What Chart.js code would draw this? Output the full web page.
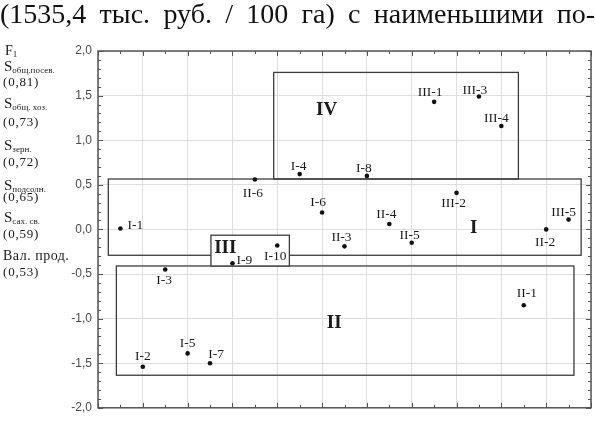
<!DOCTYPE html>
<html>
<head>
<meta charset="utf-8">
<script src="https://cdn.jsdelivr.net/npm/chart.js@4/dist/chart.umd.min.js"></script>
<style>
  html, body { margin: 0; padding: 0; background: #fff; }
  #wrap { position: relative; width: 595px; height: 421px; overflow: hidden; background: #fff; }
  #c { position: absolute; left: 0; top: 0; }
  .t { position: absolute; font-family: 'Liberation Serif', 'Times New Roman', serif; color: #1a1a1a; line-height: 0; white-space: nowrap; }
  .sub { font-size: 9px; position: relative; top: 2px; }
  #title { position: absolute; left: 0; top: 0px; width: 595px; font-family: 'Liberation Serif', serif; font-size: 28px; line-height: 28px; color: #111; text-align: justify; text-align-last: justify; white-space: nowrap; }
</style>
</head>
<body>
<div id="wrap">
  <canvas id="c" width="595" height="421"></canvas>
  <div id="title">(1535,4 тыс. руб. / 100 га) с наименьшими по-</div>
</div>
<script>
// ---- data ----
const pointNames = ['I-1','I-2','I-3','I-4','I-5','I-6','I-7','I-8','I-9','I-10',
                    'II-1','II-2','II-3','II-4','II-5','II-6',
                    'III-1','III-2','III-3','III-4','III-5'];
const pointX = [0.5, 1, 1.5, 4.5, 2, 5, 2.5, 6, 3, 4,
                9.5, 10, 5.5, 6.5, 7, 3.5,
                7.5, 8, 8.5, 9, 10.5];
const pointY = [0.01, -1.54, -0.45, 0.62, -1.39, 0.19, -1.50, 0.60, -0.38, -0.18,
                -0.85, 0.00, -0.19, 0.06, -0.15, 0.56,
                1.43, 0.41, 1.49, 1.16, 0.11];

// cluster boxes
const boxNames = ['I', 'IV', 'II', 'III'];
const boxXMin = [0.23, 3.92, 0.41, 2.52];
const boxXMax = [10.78, 9.38, 10.62, 4.27];
const boxYMin = [-0.29, 0.565, -1.635, -0.41];
const boxYMax = [0.565, 1.76, -0.41, -0.065];
const boxLabelX = [8.38, 5.1, 5.27, 2.84];
const boxLabelY = [0.03, 1.35, -1.04, -0.19];

// y axis tick values
const yTicks = [-2, -1.5, -1, -0.5, 0, 0.5, 1, 1.5, 2];

// left-side factor description
const factorTitle = ['F', '1'];
const factorNames = [['S', 'общ.посев.'], ['S', 'общ. хоз.'], ['S', 'зерн.'], ['S', 'подсолн.'], ['S', 'сах. св.'], ['Вал. прод.', '']];
const factorLoadings = ['(0,81)', '(0,73)', '(0,72)', '(0,65)', '(0,59)', '(0,53)'];

// ---- styles / placements (not data) ----
const labelOffsets = {
  'I-1': [15, -4], 'I-2': [0, -11], 'I-3': [-1, 10], 'I-4': [-1, -9], 'I-5': [0, -11],
  'I-6': [-4, -11], 'I-7': [6, -10], 'I-8': [-3, -8], 'I-9': [12, -4], 'I-10': [-2, 10],
  'II-1': [3, -13], 'II-2': [-1, 12], 'II-3': [-3, -10], 'II-4': [-3, -11], 'II-5': [-2, -8],
  'II-6': [-2, 13], 'III-1': [-4, -10], 'III-2': [-3, 10], 'III-3': [-4, -7], 'III-4': [-5, -8],
  'III-5': [-5, -8]
};
const boxFill = { 'III': '#ffffff' };
const nameBaselines = [71, 108, 150, 190, 222, 261];
const loadBaselines = [86, 126, 166, 201, 238, 276];

// ---- left text ----
const wrap = document.getElementById('wrap');
function addText(html, left, baseline, size, extra) {
  const d = document.createElement('div');
  d.className = 't';
  d.style.left = left + 'px';
  d.style.top = (baseline - 0.3375 * size) + 'px';
  d.style.fontSize = size + 'px';
  if (extra) Object.assign(d.style, extra);
  d.innerHTML = html;
  wrap.appendChild(d);
}
addText(factorTitle[0] + '<span class="sub">' + factorTitle[1] + '</span>', 5, 56, 14);
factorNames.forEach((n, i) => {
  if (n[1]) addText(n[0] + '<span class="sub">' + n[1] + '</span>', 4, nameBaselines[i], 15);
  else addText(n[0], 3, nameBaselines[i], 14, { letterSpacing: '0.5px' });
});
factorLoadings.forEach((t, i) => addText(t, 3, loadBaselines[i], 13, { letterSpacing: '0.8px' }));

// draw text with its cap-height centred on (x, y)
function capText(ctx, s, x, y, size) {
  ctx.textBaseline = 'alphabetic';
  ctx.fillText(s, x, y + 0.33 * size);
}

// ---- plugins ----
const boxesPlugin = {
  id: 'boxes',
  beforeDatasetsDraw(chart) {
    const { ctx, scales: { x, y } } = chart;
    ctx.save();
    boxNames.forEach((n, i) => {
      const x1 = x.getPixelForValue(boxXMin[i]), x2 = x.getPixelForValue(boxXMax[i]);
      const y1 = y.getPixelForValue(boxYMax[i]), y2 = y.getPixelForValue(boxYMin[i]);
      if (boxFill[n]) { ctx.fillStyle = boxFill[n]; ctx.fillRect(x1, y1, x2 - x1, y2 - y1); }
      ctx.strokeStyle = '#3c3c3c';
      ctx.lineWidth = 1.3;
      ctx.strokeRect(x1, y1, x2 - x1, y2 - y1);
    });
    ctx.fillStyle = '#1a1a1a';
    ctx.font = 'bold 19px "Liberation Serif", serif';
    ctx.textAlign = 'center';
    boxNames.forEach((n, i) => {
      capText(ctx, n, x.getPixelForValue(boxLabelX[i]), y.getPixelForValue(boxLabelY[i]), 19);
    });
    ctx.restore();
  }
};

const framePlugin = {
  id: 'frame',
  beforeDatasetsDraw(chart) {
    const { ctx, chartArea: a, scales: { x, y } } = chart;
    ctx.save();
    ctx.strokeStyle = '#555';
    ctx.lineWidth = 1.5;
    ctx.strokeRect(a.left, a.top, a.right - a.left, a.bottom - a.top);
    ctx.lineWidth = 1;
    ctx.beginPath();
    for (let k = -20; k <= 20; k++) {
      const v = k / 10;
      const py = Math.round(y.getPixelForValue(v)) + 0.5;
      const len = (k % 5 === 0) ? 5 : 3;
      ctx.moveTo(a.left, py); ctx.lineTo(a.left + len, py);
      ctx.moveTo(a.right, py); ctx.lineTo(a.right - len, py);
    }
    for (let k = 0; k <= 22; k++) {
      const v = k / 2;
      const px = Math.round(x.getPixelForValue(v)) + 0.5;
      const len = (k % 2 === 0) ? 5 : 3;
      ctx.moveTo(px, a.top); ctx.lineTo(px, a.top + len);
      ctx.moveTo(px, a.bottom); ctx.lineTo(px, a.bottom - len);
    }
    ctx.stroke();
    ctx.restore();
  }
};

const labelsPlugin = {
  id: 'ptlabels',
  afterDatasetsDraw(chart) {
    const { ctx } = chart;
    const meta = chart.getDatasetMeta(0);
    ctx.save();
    ctx.fillStyle = '#1a1a1a';
    ctx.font = '13.5px "Liberation Serif", serif';
    ctx.textAlign = 'center';
    meta.data.forEach((el, i) => {
      const off = labelOffsets[pointNames[i]] || [0, -10];
      capText(ctx, pointNames[i], el.x + off[0], el.y + off[1], 13.5);
    });
    ctx.restore();
  }
};

new Chart(document.getElementById('c'), {
  type: 'scatter',
  data: {
    datasets: [{
      data: pointX.map((v, i) => ({ x: v, y: pointY[i] })),
      pointRadius: 2.3,
      pointBorderWidth: 0,
      backgroundColor: '#111',
      borderColor: '#111'
    }]
  },
  options: {
    responsive: false,
    animation: false,
    devicePixelRatio: 1,
    layout: { padding: { top: 51, right: 4, bottom: 7, left: 0 } },
    plugins: { legend: { display: false }, tooltip: { enabled: false } },
    scales: {
      x: {
        type: 'linear', min: 0, max: 11,
        ticks: { display: false, stepSize: 1 },
        grid: { color: '#dedede', drawTicks: false, lineWidth: 1 },
        border: { display: false },
        afterFit(s) { s.height = 0; }
      },
      y: {
        min: -2, max: 2,
        afterBuildTicks(s) { s.ticks = yTicks.map(v => ({ value: v })); },
        ticks: {
          callback: v => v.toFixed(1).replace('.', ','),
          color: '#4a4a4a',
          font: { family: 'Liberation Sans', size: 12 },
          padding: 6
        },
        grid: { color: '#dedede', drawTicks: false, lineWidth: 1 },
        border: { display: false },
        afterFit(s) { s.width = 98; }
      }
    }
  },
  plugins: [boxesPlugin, framePlugin, labelsPlugin]
});
</script>
</body>
</html>
